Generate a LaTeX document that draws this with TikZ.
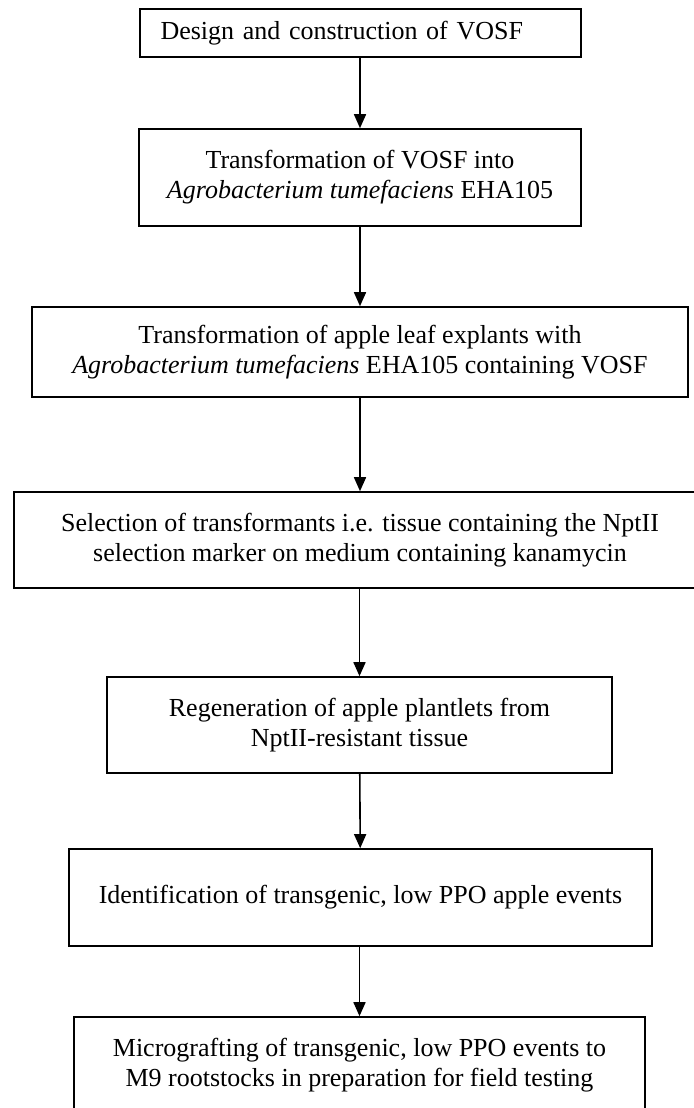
\documentclass[tikz,border=0pt]{standalone}
\usepackage{fontspec}
\setmainfont{Liberation Serif}
\usetikzlibrary{arrows.meta}

\begin{document}
\begin{tikzpicture}[x=0.5pt,y=-0.5pt,
  box/.style={draw, line width=0.8pt, align=center, inner sep=0pt,
    font=\fontsize{13pt}{15pt}\selectfont},
  flow/.style={line width=0.8pt, -{Triangle[width=6pt,length=7pt]}}]
  \useasboundingbox (0,0) rectangle (693,1108);

  % Steps
  \node[box, minimum width=220.5pt, minimum height=24pt, text width=200pt, align=left]
    (design) at (360.5,33) {Design and construction of VOSF};
  \node[box, minimum width=221pt, minimum height=48.5pt]
    (agro) at (360,177.5) {Transformation of VOSF into\\\textit{Agrobacterium tumefaciens} EHA105};
  \node[box, minimum width=328pt, minimum height=45pt]
    (leaf) at (360,352) {Transformation of apple leaf explants with\\\textit{Agrobacterium tumefaciens} EHA105 containing VOSF};
  \node[box, minimum width=346pt, minimum height=48pt]
    (select) at (360,540) {Selection of transformants i.e. tissue containing the NptII\\selection marker on medium containing kanamycin};
  \node[box, minimum width=252.5pt, minimum height=48pt]
    (regen) at (359.5,725) {Regeneration of apple plantlets from\\NptII-resistant tissue};
  \node[box, minimum width=291.5pt, minimum height=48.5pt]
    (ident) at (360.5,897.5) {Identification of transgenic, low PPO apple events};
  \node[box, minimum width=285.5pt, minimum height=48pt]
    (graft) at (359.5,1065) {Micrografting of transgenic, low PPO events to\\M9 rootstocks in preparation for field testing};

  % Arrows
  \draw[flow] (design.south -| agro.north) -- (agro.north);
  \draw[flow] (agro) -- (leaf);
  \draw[flow] (leaf) -- (select);
  \draw[flow] (select.south -| regen.north) -- (regen.north);
  \draw[flow] (regen) -- (ident);
  \draw[flow] (ident.south -| graft.north) -- (graft.north);
\end{tikzpicture}
\end{document}
